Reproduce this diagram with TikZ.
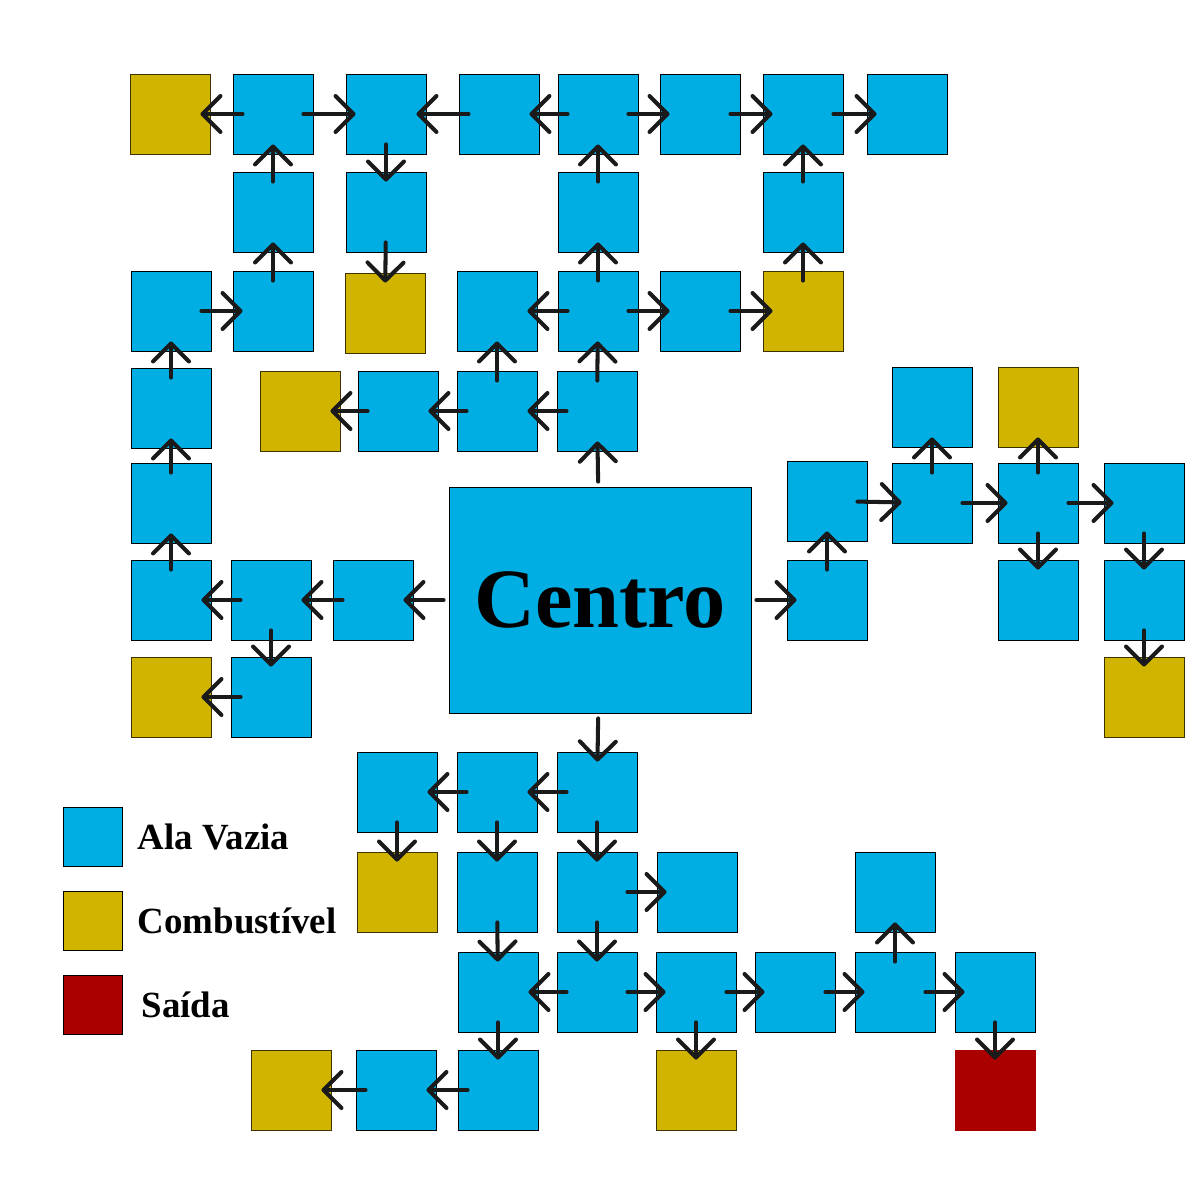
\documentclass[tikz,border=0pt]{standalone}
\usepackage{fontspec}
\setmainfont{Liberation Serif}
\usepackage{xcolor}
\usepackage{tikz}
\usetikzlibrary{arrows.meta,positioning}

\definecolor{alablue}{HTML}{00AEE4}
\definecolor{fuelyellow}{HTML}{D0B400}
\definecolor{fueledge}{HTML}{3D3300}
\definecolor{exitred}{HTML}{AA0000}
\definecolor{linkgray}{HTML}{1A1A1A}

\begin{document}
\begin{tikzpicture}[
			wing/.style={
					draw=black, line width=0.25pt, fill=alablue,
					minimum size=0.8cm, inner sep=0pt
				},
			fuel/.style={wing, fill=fuelyellow, draw=fueledge},
			exitbox/.style={wing, fill=exitred, draw=exitred},
			keybox/.style={draw=black, line width=0.25pt, minimum size=0.59cm, inner sep=0pt},
			keytext/.style={anchor=west, inner sep=0pt, font=\fontsize{10.5}{12}\selectfont\bfseries},
			link/.style={
					-{Straight Barb[length=1.8mm, width=3.6mm, round]},
					line width=1.15pt, draw=linkgray, line cap=round, line join=round,
					shorten <=-1mm, shorten >=-1mm
				},
			hub/.style={link, shorten <=0.5mm}
		]

		\useasboundingbox (0,0) rectangle (12,-12);

		% Centre
		\node[wing, minimum width=3.02cm, minimum height=2.26cm,
			font=\fontsize{24}{28}\selectfont\bfseries] (centro) at (6.00,-6.00) {Centro};

		% Top row
		\node[fuel] (a1) at (1.70,-1.14) {};
		\node[wing] (a2) at (2.73,-1.14) {};
		\node[wing] (a3) at (3.86,-1.14) {};
		\node[wing] (a4) at (4.99,-1.14) {};
		\node[wing] (a5) at (5.98,-1.14) {};
		\node[wing] (a6) at (7.00,-1.14) {};
		\node[wing] (a7) at (8.03,-1.14) {};
		\node[wing] (a8) at (9.07,-1.14) {};

		\node[wing] (b2) at (2.73,-2.12) {};
		\node[wing] (b3) at (3.86,-2.12) {};
		\node[wing] (b5) at (5.98,-2.12) {};
		\node[wing] (b7) at (8.03,-2.12) {};

		\node[wing] (c1) at (1.71,-3.11) {};
		\node[wing] (c2) at (2.73,-3.11) {};
		\node[fuel] (c3) at (3.85,-3.13) {};
		\node[wing] (c4) at (4.97,-3.11) {};
		\node[wing] (c5) at (5.98,-3.11) {};
		\node[wing] (c6) at (7.00,-3.11) {};
		\node[fuel] (c7) at (8.03,-3.11) {};

		\node[wing] (d1) at (1.71,-4.08) {};
		\node[fuel] (d2) at (3.00,-4.11) {};
		\node[wing] (d3) at (3.98,-4.11) {};
		\node[wing] (d4) at (4.97,-4.11) {};
		\node[wing] (d5) at (5.97,-4.11) {};

		% Left arm
		\node[wing] (e1) at (1.71,-5.03) {};
		\node[wing] (f1) at (1.71,-6.00) {};
		\node[wing] (f2) at (2.71,-6.00) {};
		\node[wing] (f3) at (3.73,-6.00) {};
		\node[fuel] (g1) at (1.71,-6.97) {};
		\node[wing] (g2) at (2.71,-6.97) {};

		% Right arm
		\node[wing] (r1) at (9.32,-4.07) {};
		\node[fuel] (r2) at (10.38,-4.07) {};
		\node[wing] (s1) at (8.27,-5.01) {};
		\node[wing] (s2) at (9.32,-5.03) {};
		\node[wing] (s3) at (10.38,-5.03) {};
		\node[wing] (s4) at (11.44,-5.03) {};
		\node[wing] (t1) at (8.27,-6.00) {};
		\node[wing] (t3) at (10.38,-6.00) {};
		\node[wing] (t4) at (11.44,-6.00) {};
		\node[fuel] (u4) at (11.44,-6.97) {};

		% Bottom arm
		\node[wing] (h3) at (3.97,-7.92) {};
		\node[wing] (h4) at (4.97,-7.92) {};
		\node[wing] (h5) at (5.97,-7.92) {};
		\node[fuel] (i3) at (3.97,-8.92) {};
		\node[wing] (i4) at (4.97,-8.92) {};
		\node[wing] (i5) at (5.97,-8.92) {};
		\node[wing] (i6) at (6.97,-8.92) {};
		\node[wing] (i8) at (8.95,-8.92) {};
		\node[wing] (j4) at (4.98,-9.92) {};
		\node[wing] (j5) at (5.97,-9.92) {};
		\node[wing] (j6) at (6.96,-9.92) {};
		\node[wing] (j7) at (7.95,-9.92) {};
		\node[wing] (j8) at (8.95,-9.92) {};
		\node[wing] (j9) at (9.95,-9.92) {};
		\node[fuel] (k2) at (2.91,-10.90) {};
		\node[wing] (k3) at (3.96,-10.90) {};
		\node[wing] (k4) at (4.98,-10.90) {};
		\node[fuel] (k6) at (6.96,-10.90) {};
		\node[exitbox] (k9) at (9.95,-10.90) {};

		% Links from the centre
		\draw[hub] (centro) -- (d5);
		\draw[hub] (centro) -- (f3);
		\draw[hub] (centro) -- (t1);
		\draw[hub] (centro) -- (h5);

		% Links, top part
		\draw[link] (a2) -- (a1);
		\draw[link] (a2) -- (a3);
		\draw[link] (a4) -- (a3);
		\draw[link] (a5) -- (a4);
		\draw[link] (a5) -- (a6);
		\draw[link] (a6) -- (a7);
		\draw[link] (a7) -- (a8);
		\draw[link] (b2) -- (a2);
		\draw[link] (a3) -- (b3);
		\draw[link] (b5) -- (a5);
		\draw[link] (b7) -- (a7);
		\draw[link] (c2) -- (b2);
		\draw[link] (b3) -- (c3);
		\draw[link] (c5) -- (b5);
		\draw[link] (c7) -- (b7);
		\draw[link] (c1) -- (c2);
		\draw[link] (c5) -- (c4);
		\draw[link] (c5) -- (c6);
		\draw[link] (c6) -- (c7);
		\draw[link] (d1) -- (c1);
		\draw[link] (d4) -- (c4);
		\draw[link] (d5) -- (c5);
		\draw[link] (d3) -- (d2);
		\draw[link] (d4) -- (d3);
		\draw[link] (d5) -- (d4);

		% Links, left part
		\draw[link] (e1) -- (d1);
		\draw[link] (f1) -- (e1);
		\draw[link] (f2) -- (f1);
		\draw[link] (f3) -- (f2);
		\draw[link] (f2) -- (g2);
		\draw[link] (g2) -- (g1);

		% Links, right part
		\draw[link] (t1) -- (s1);
		\draw[link] (s1) -- (s2);
		\draw[link] (s2) -- (r1);
		\draw[link] (s2) -- (s3);
		\draw[link] (s3) -- (r2);
		\draw[link] (s3) -- (s4);
		\draw[link] (s3) -- (t3);
		\draw[link] (s4) -- (t4);
		\draw[link] (t4) -- (u4);

		% Links, bottom part
		\draw[link] (h5) -- (h4);
		\draw[link] (h4) -- (h3);
		\draw[link] (h3) -- (i3);
		\draw[link] (h4) -- (i4);
		\draw[link] (h5) -- (i5);
		\draw[link] (i5) -- (i6);
		\draw[link] (i4) -- (j4);
		\draw[link] (i5) -- (j5);
		\draw[link] (j5) -- (j4);
		\draw[link] (j5) -- (j6);
		\draw[link] (j6) -- (j7);
		\draw[link] (j7) -- (j8);
		\draw[link] (j8) -- (i8);
		\draw[link] (j8) -- (j9);
		\draw[link] (j9) -- (k9);
		\draw[link] (j6) -- (k6);
		\draw[link] (j4) -- (k4);
		\draw[link] (k4) -- (k3);
		\draw[link] (k3) -- (k2);

		% Legend
		\node[keybox, fill=alablue] (keyala) at (0.93,-8.37) {};
		\node[keybox, fill=fuelyellow] (keyfuel) at (0.93,-9.21) {};
		\node[keybox, fill=exitred] (keyexit) at (0.93,-10.05) {};
		\node[keytext] (txtala) at (1.37,-8.37) {Ala Vazia};
		\node[keytext] (txtfuel) at (1.37,-9.21) {Combustível};
		\node[keytext] (txtexit) at (1.41,-10.05) {Saída};

	\end{tikzpicture}
\end{document}
